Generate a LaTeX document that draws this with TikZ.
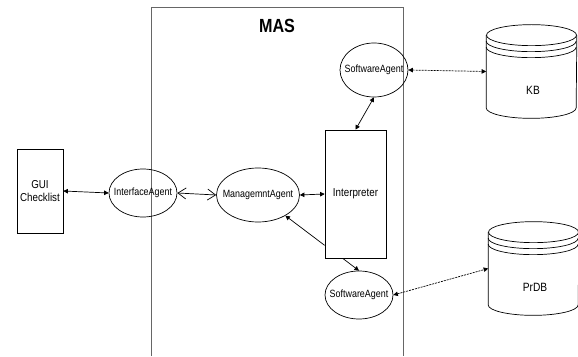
\documentclass[tikz,border=0pt]{standalone}
\usepackage{fontspec}
\setmainfont[FakeStretch=0.85]{Liberation Sans}
\usepackage{tikz}
\usetikzlibrary{shapes.geometric,arrows.meta}

\begin{document}
\begin{tikzpicture}[x=1pt,y=1pt,line width=0.7pt,
  every node/.style={font=\fontsize{11.5}{13.5}\selectfont, inner sep=1pt},
  agent/.style={draw, ellipse, inner xsep=-9pt, inner ysep=0pt, font=\fontsize{10.5}{12.5}\selectfont},
  block/.style={draw, rectangle, align=center},
  dbbody/.style={rectangle, minimum width=90pt, minimum height=93pt},
  link/.style={line width=0.7pt, {Triangle[length=4.5pt,width=4.5pt]}-{Triangle[length=4.5pt,width=4.5pt]}},
  dblink/.style={link, dash pattern=on 2pt off 1pt}]
\useasboundingbox (0,0) rectangle (578,356);

% MAS frame
\draw[line width=1pt, black!60] (151,0) -- (151,348) -- (403,348) -- (403,0);
\node[font=\fontsize{19}{22}\selectfont\bfseries] (mas) at (277,330) {MAS};

\node[block, minimum width=46pt, minimum height=84pt] (gui) at (40,165) {GUI\\Checklist};
\node[agent, minimum width=68pt, minimum height=48pt] (ia) at (143,163) {InterfaceAgent};
\node[agent, minimum width=83pt, minimum height=54pt] (ma) at (258,161) {ManagemntAgent};
\node[block, minimum width=61pt, minimum height=128pt] (interp) at (355.5,162) {Interpreter};
\node[agent, minimum width=68pt, minimum height=54pt] (sa1) at (374,286) {SoftwareAgent};
\node[agent, minimum width=68pt, minimum height=48pt] (sa2) at (359,61) {SoftwareAgent};

% data stores
\node[dbbody] (kb) at (531.5,284.5) {};
\node[font=\fontsize{12}{14}\selectfont] (kbtext) at (533,266) {KB};
\draw ([yshift=-10.5pt]kb.north) ellipse[x radius=45pt, y radius=10.5pt];
\draw ([yshift=-16.5pt]kb.north west) arc[start angle=180, end angle=360, x radius=45pt, y radius=10.5pt];
\draw ([yshift=-22.5pt]kb.north west) arc[start angle=180, end angle=360, x radius=45pt, y radius=10.5pt];
\draw ([yshift=-10.5pt]kb.north west) -- ([yshift=10.5pt]kb.south west)
  arc[start angle=180, end angle=360, x radius=45pt, y radius=10.5pt] -- ([yshift=-10.5pt]kb.north east);

\node[dbbody] (prdb) at (533.5,87.5) {};
\node[font=\fontsize{12}{14}\selectfont] (prdbtext) at (535,69) {PrDB};
\draw ([yshift=-10.5pt]prdb.north) ellipse[x radius=45pt, y radius=10.5pt];
\draw ([yshift=-16.5pt]prdb.north west) arc[start angle=180, end angle=360, x radius=45pt, y radius=10.5pt];
\draw ([yshift=-22.5pt]prdb.north west) arc[start angle=180, end angle=360, x radius=45pt, y radius=10.5pt];
\draw ([yshift=-10.5pt]prdb.north west) -- ([yshift=10.5pt]prdb.south west)
  arc[start angle=180, end angle=360, x radius=45pt, y radius=10.5pt] -- ([yshift=-10.5pt]prdb.north east);

% connectors
\draw[link] (gui.east) -- (ia.west);
\draw[{Straight Barb[length=8pt,width=11pt]}-{Straight Barb[length=8pt,width=11pt]}] (ia.east) -- (ma.west);
\draw[link] (ma.east) -- (interp.west);
\draw[link, -{Triangle[length=4.5pt,width=4.5pt]}] ([yshift=13pt]interp.south west) -- (ma);
\draw[link, -{Triangle[length=4.5pt,width=4.5pt]}] ([xshift=18pt]interp.south west) -- (sa2.north);
\draw[link] (interp.north) -- (sa1.south);
\draw[dblink] (sa1.east) -- (kb.west);
\draw[dblink] (sa2.east) -- (prdb.west);
\end{tikzpicture}
\end{document}
